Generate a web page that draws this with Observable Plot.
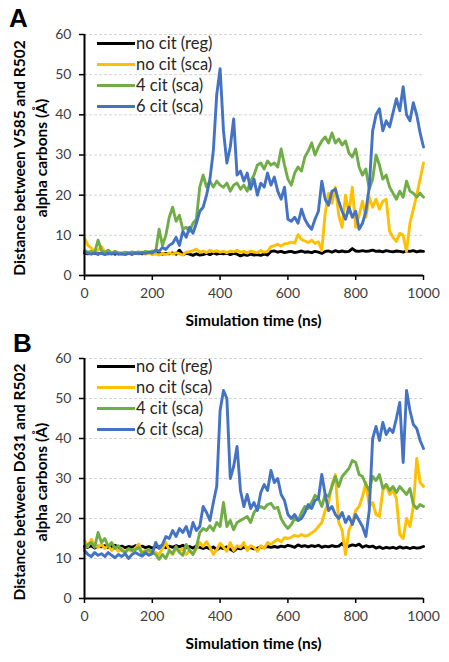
<!DOCTYPE html>
<html><head><meta charset="utf-8">
<script src="https://cdn.jsdelivr.net/npm/d3@7"></script>
<script src="https://cdn.jsdelivr.net/npm/@observablehq/plot@0.6"></script>
<style>
body{margin:0;background:#fff;font-family:Lato,"Open Sans",sans-serif;}
.panel{position:relative;width:449px;}
.plabel{position:absolute;font:bold 26px "Liberation Sans",Arial,sans-serif;line-height:1;color:#000;}
.ylab{position:absolute;width:300px;height:44px;font:bold 15.5px Lato,sans-serif;color:#000;transform:rotate(-90deg);white-space:nowrap;text-align:center;line-height:22px}
.xlab{position:absolute;left:84px;width:339px;text-align:center;font:bold 15.5px Lato,sans-serif;line-height:16px;color:#000}
.legend{position:absolute;left:97px;font:16.5px Lato,sans-serif;color:#262626}
.legend .row{display:flex;align-items:center;height:21px}
.legend .sw{display:inline-block;width:38px;height:3px;margin-right:1px}
</style>
</head><body>
<div id="A" class="panel" style="height:330px"></div>
<div id="B" class="panel" style="height:332px"></div>
<script>
const seriesNames = ["no cit (reg)", "no cit (sca)", "4 cit (sca)", "6 cit (sca)"];
const seriesColors = ["#000000", "#FFC000", "#70AD47", "#4472C4"];
const yTicks = [0, 10, 20, 30, 40, 50, 60];
const xTicks = [0, 200, 400, 600, 800, 1000];
const time = d3.range(0, 1001, 10); // simulation time (ns), 10 ns steps

// Panel A: Distance between V585 and R502 alpha carbons
const blackA = [5.6,5.4,5.7,5.5,5.3,5.6, 5.5,5.4,5.6,5.3,5.5, 5.4,5.6,5.5,5.3,5.5, 5.6,5.4,5.5,5.7,5.4,
  5.5,5.6,5.3,5.5,5.4, 5.6,5.3,6.3,5.2,5.5, 5.3,5.0,5.4,5.1,5.2, 5.5,5.2,5.6,5.3,5.5, 5.4,5.6,5.2,5.5,5.3,
  4.9,5.2,5.0,5.3,5.1, 5.2,5.0,5.3,5.1,6.0, 6.1,5.8,6.0,5.7,5.9, 6.0,5.7,5.9,6.1,5.8, 5.9,5.7,6.0,5.8,5.5,
  6.0,6.1,5.8,6.2,5.9, 6.1,5.9,6.0,6.7,6.1, 6.0,6.2,6.0,6.1,6.3, 6.0,6.1,5.9,6.2,6.0, 5.9,6.1,6.0,5.8,6.1,
  6.0,6.2,5.9,6.1,6.0];
const yellowA = [9.3,7.5,6.8,6.0,6.3,7.2, 5.8,6.2,5.6,5.9,5.5, 5.6,5.3,5.7,5.4,5.6, 5.5,5.8,5.3,5.6,5.2,
  5.4,5.1,5.5,5.2,5.6, 5.3,5.7,5.4,5.1,5.8, 5.9,6.2,6.6,5.8,6.1, 5.7,6.3,5.9,6.2,5.8, 6.0,5.7,6.1,5.9,6.3,
  5.8,6.0,5.6,6.1,5.9, 5.7,6.2,5.8,6.0,7.2, 7.4,7.8,7.3,7.9,8.0, 8.3,8.1,10.2,9.0,8.6, 8.2,8.8,8.0,8.4,6.2,
  15.5,20.5,18.0,22.0,15.0, 12.0,20.0,15.5,22.0,12.0, 15.0,18.5,14.5,19.5,17.0, 19.0,16.5,18.5,19.0,11.0,
  9.5,8.5,10.5,10.0,6.0, 13.0,16.5,20.0,24.0,28.0];
const greenA = [6.2,5.8,6.0,5.7,8.8,6.2, 5.8,6.3,5.6,6.0,5.7, 5.5,5.8,5.6,5.9,5.7, 5.9,5.6,6.0,5.8,6.1,
  5.9,11.5,7.5,10.0,14.5, 17.0,13.5,15.0,11.5,12.0, 11.0,13.0,14.0,22.0,25.0, 22.0,23.5,22.0,23.5,22.5,
  22.0,23.0,21.0,22.5,23.0, 21.5,22.5,21.0,23.5,25.0, 27.5,28.0,26.5,28.5,27.5, 28.0,27.0,31.5,27.5,24.0,
  22.5,25.5,27.0,26.0,29.5, 31.0,33.0,30.0,32.0,33.5, 34.5,33.0,35.5,33.0,34.0, 32.5,33.5,30.5,29.5,31.5,
  27.0,25.0,26.5,21.5,24.0, 30.0,27.5,24.0,25.0,22.0, 20.5,19.0,21.0,19.5,23.5, 21.0,20.5,19.5,20.5,19.5];
const blueA = [5.8,5.5,5.3,5.6,5.4,5.5, 5.2,5.5,5.3,5.6,5.3, 5.4,5.2,5.5,5.3,5.6, 5.4,5.7,5.5,5.8,5.6,
  6.3,6.0,7.0,6.5,7.5, 8.0,9.5,7.5,11.0,9.5, 12.0,10.5,13.0,16.0,17.0, 20.0,24.0,31.0,45.0,51.5,
  36.0,28.0,32.0,39.0,25.0, 26.0,23.5,25.5,21.5,24.0, 20.0,23.0,22.0,25.5,22.5, 24.5,21.0,19.0,22.0,14.0,
  13.5,14.5,13.0,16.5,14.0, 12.5,11.5,14.0,16.0,23.5, 19.0,17.5,21.0,21.5,18.5, 16.0,14.0,17.0,14.5,16.0,
  11.5,13.0,16.0,22.0,36.0, 40.0,41.5,36.0,38.5,37.0, 40.5,44.0,41.0,47.0,40.0, 38.5,43.0,40.0,35.5,32.0];

// Panel B: Distance between D631 and R502 alpha carbons
const blackB = [13.0,12.8,13.2,12.6,13.1,12.9, 13.2,12.7,13.0,13.3,12.8, 13.1,12.7,13.0,12.8,13.2, 12.9,13.1,12.7,13.0,12.6,
  13.0,12.8,13.3,12.7,13.1, 12.8,13.2,12.9,13.3,12.7, 13.0,12.6,13.1,12.8,12.5, 12.8,12.4,12.9,12.2,12.7,
  12.5,12.9,12.3,11.8,12.6, 12.4,12.8,12.5,12.7,12.4, 12.6,12.9,12.7,13.0,12.8, 13.0,12.8,13.1,12.9,13.3,
  13.1,12.8,13.4,13.0,13.2, 12.9,13.2,13.0,13.3,12.8, 13.1,12.9,13.2,13.0,13.1, 13.8,12.7,13.1,13.4,13.2,
  13.6,12.8,13.2,12.9,13.1, 12.6,12.9,12.5,12.8,12.6, 12.8,12.5,12.9,12.6,12.8, 12.5,12.8,12.6,12.7,13.0];
const yellowB = [14.5,13.0,14.8,13.5,12.8,13.5, 12.5,13.2,12.0,12.8,11.8, 12.5,11.5,12.2,11.8,12.6, 13.6,11.5,12.0,11.2,11.8,
  11.5,11.0,12.5,14.0,12.0, 11.0,12.3,11.8,12.5,11.0, 12.0,11.2,12.5,14.0,13.0, 14.2,12.8,11.0,12.2,13.8,
  12.8,11.8,14.0,12.0,13.2, 12.8,14.0,12.0,13.2,12.8, 11.8,13.2,12.5,14.0,13.5, 14.2,14.8,14.2,15.2,15.0,
  15.3,15.8,15.5,16.0,15.6, 15.8,16.4,17.0,18.0,19.0, 22.0,24.0,28.5,31.0,19.0, 17.0,11.0,17.0,19.0,22.0,
  23.0,25.5,29.0,23.0,24.0, 21.0,20.5,27.0,28.5,26.0, 27.0,25.0,16.0,15.0,20.0, 18.0,23.0,35.0,29.0,28.0];
const greenB = [12.5,13.5,14.0,12.8,16.5,14.0, 15.0,13.0,14.0,12.5,13.2, 12.0,11.5,12.5,12.0,12.2, 12.8,11.2,11.8,12.2,11.5,
  11.0,9.8,11.0,10.0,12.0, 11.2,13.0,11.5,10.8,13.5, 12.0,11.0,12.8,16.5,17.5, 17.0,18.2,17.0,19.0,18.0,
  24.0,18.0,19.5,17.2,19.0, 19.5,20.0,20.5,19.0,21.5, 22.5,23.0,22.5,23.5,23.8, 22.5,22.8,20.0,18.5,17.5,
  18.5,20.0,19.5,21.5,23.0, 22.5,24.0,25.8,25.0,23.0, 26.0,25.5,28.0,30.5,28.0, 30.5,31.5,32.5,34.5,34.0,
  31.0,30.5,28.5,27.0,30.5, 29.5,31.0,27.5,28.5,27.0, 28.0,26.5,28.0,27.0,26.0, 27.5,23.5,22.5,23.5,23.0];
const blueB = [12.0,11.0,10.5,11.5,10.8,11.2, 10.5,11.5,10.8,10.2,11.0, 10.5,11.2,10.0,11.0,11.5, 11.0,10.6,11.4,10.8,11.2,
  14.0,12.5,13.5,15.5,15.0, 17.0,15.5,17.5,16.5,18.0, 15.5,19.0,17.0,18.0,23.0, 21.5,19.5,24.0,28.0,47.0,
  52.0,50.0,30.0,33.0,38.0, 27.0,23.0,26.0,22.5,24.0, 22.0,26.5,28.5,27.0,32.0, 29.0,30.0,26.0,24.5,21.0,
  20.0,21.0,19.5,20.0,21.5, 23.5,22.5,24.5,25.0,31.0, 26.0,22.0,23.0,21.0,20.0, 21.5,19.0,20.5,18.5,21.0,
  19.5,18.0,15.5,22.0,40.0, 43.0,39.5,44.0,41.0,42.5, 41.5,45.0,49.0,34.0,52.0, 47.0,43.5,42.5,39.5,37.5];

function buildPanel(id, letter, yTitleLines, seriesValues, h, mt, mb, legendTop, letterTop, letterLeft, ylabCy) {
  const el = document.getElementById(id);
  const data = [];
  seriesNames.forEach((name, i) => {
    seriesValues[i].forEach((v, j) => data.push({t: time[j], v, s: name}));
  });
  const chart = Plot.plot({
    width: 449, height: h,
    marginLeft: 84, marginRight: 26, marginTop: mt, marginBottom: mb,
    style: {fontFamily: "Lato, sans-serif", fontSize: "14px", color: "#404040", background: "transparent"},
    x: {domain: [0, 1000]},
    y: {domain: [0, 60]},
    color: {domain: seriesNames, range: seriesColors},
    marks: [
      Plot.gridY(yTicks.slice(1), {stroke: "#d4d4d4", strokeOpacity: 1, strokeWidth: 1, strokeDasharray: "3,2"}),
      Plot.line(data, {x: "t", y: "v", z: "s", stroke: "s", strokeWidth: 2.9, strokeLinejoin: "round"}),
      Plot.ruleX([0], {stroke: "black", strokeWidth: 2}),
      Plot.ruleY([0], {stroke: "black", strokeWidth: 2}),
      Plot.axisY(yTicks, {tickSize: 5, tickPadding: 8, stroke: "black", strokeWidth: 1.5, label: null, tickFormat: d3.format("d")}),
      Plot.axisX(xTicks, {tickSize: 5, tickPadding: 8, stroke: "black", strokeWidth: 1.5, label: null, tickFormat: d3.format("d")})
    ]
  });
  el.appendChild(chart);
  const lab = document.createElement("div");
  lab.className = "plabel"; lab.textContent = letter;
  lab.style.top = letterTop + "px"; lab.style.left = letterLeft + "px";
  el.appendChild(lab);
  const yl = document.createElement("div");
  yl.className = "ylab";
  yl.innerHTML = yTitleLines.map(s => "<div>" + s + "</div>").join("");
  yl.style.left = (30 - 150) + "px"; yl.style.top = (ylabCy - 22) + "px";
  el.appendChild(yl);
  const xl = document.createElement("div");
  xl.className = "xlab"; xl.textContent = "Simulation time (ns)";
  xl.style.top = (h - mb + 37) + "px";
  el.appendChild(xl);
  const lg = document.createElement("div");
  lg.className = "legend"; lg.style.top = legendTop + "px";
  seriesNames.forEach((n, i) => {
    const r = document.createElement("div"); r.className = "row";
    r.innerHTML = '<span class="sw" style="background:' + seriesColors[i] + '"></span><span>' + n + '</span>';
    lg.appendChild(r);
  });
  el.appendChild(lg);
}

buildPanel("A", "A", ["Distance between V585 and R502", "alpha carbons (Å)"],
  [blackA, yellowA, greenA, blueA], 330, 34, 55, 32.5, 5, 9, 158);
buildPanel("B", "B", ["Distance between D631 and R502", "alpha carbons (Å)"],
  [blackB, yellowB, greenB, blueB], 332, 28, 64, 25.5, 0, 13, 152);
</script>
</body></html>
